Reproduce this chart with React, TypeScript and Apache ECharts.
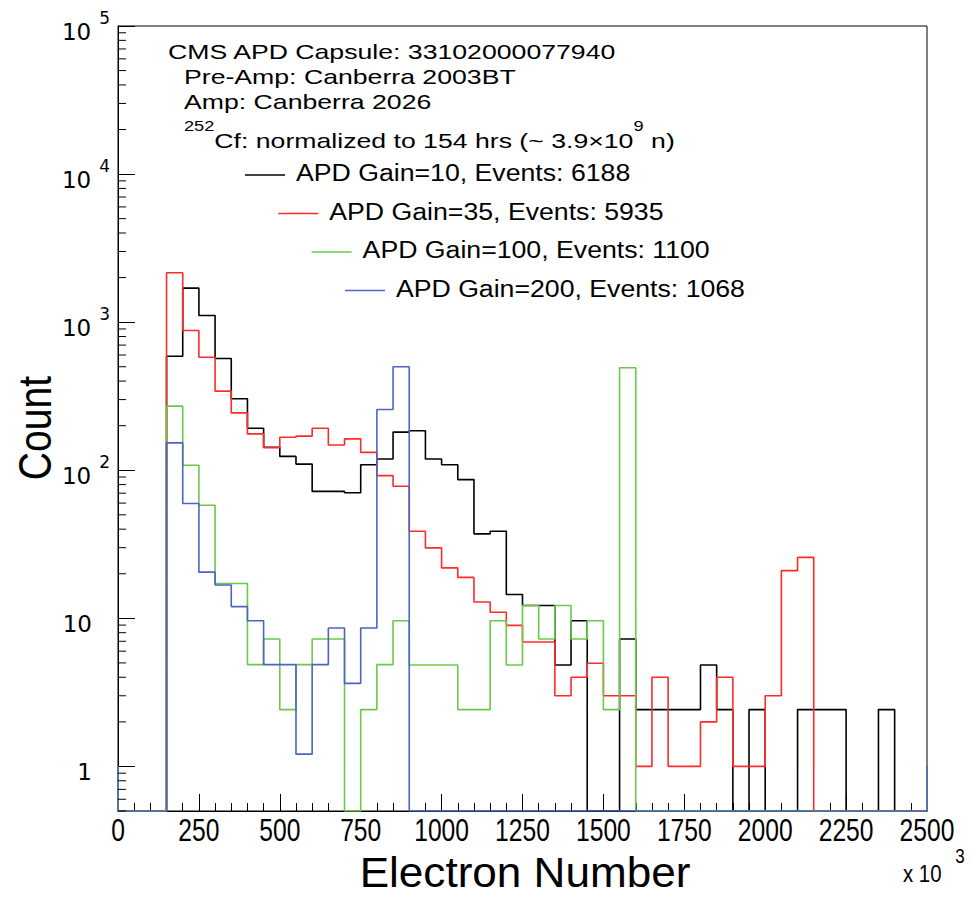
import React, { useEffect, useRef } from "react";
import * as echarts from "echarts";

// ---- data ----
const BIN_WIDTH = 50;
const FIRST_BIN = 150;
const X_MIN = 0;
const X_MAX = 2500;
const X_INTERVAL = 250;
const Y_MIN = 0.5;
const Y_MAX = 100000;
const EDGE_VALUE = 1;

// bins 150-200, 200-250, ..., 2450-2500
const gain10 = [589, 1698, 1110, 569, 304, 192, 143, 124, 110, 72, 72, 70.5, 109, 119, 181, 185, 119, 109, 86.5, 37.2, 38.7, 14.5, 12.2, 12.2, 4.84, 9.64, 0, 0, 7.26, 2.42, 2.42, 2.42, 2.42, 4.84, 2.42, 0, 2.42, 0, 0, 2.42, 2.42, 2.42, 0, 0, 2.42, 0, 0];
const gain35 = [2158, 879, 580, 342, 244, 176, 142, 167, 170, 192, 148, 163, 132, 92, 78, 38.7, 29.9, 21.9, 18.9, 12.9, 11.0, 8.97, 6.92, 6.92, 3.0, 4.0, 4.97, 3.0, 3.0, 1.0, 4.0, 1.0, 1.0, 2.0, 4.0, 1.0, 1.0, 3.0, 21.0, 25.8, 0, 0, 0, 0, 0, 0, 0];
const gain100 = [271, 108, 58, 17.2, 17.2, 4.87, 7.26, 2.42, 4.87, 7.26, 7.26, 0, 2.42, 4.87, 9.64, 4.84, 4.84, 4.84, 2.42, 2.42, 9.64, 4.84, 12.2, 7.26, 12.2, 7.26, 9.64, 2.42, 492, 0, 0, 0, 0, 0, 0, 0, 0, 0, 0, 0, 0, 0, 0, 0, 0, 0, 0];
const gain200 = [153, 59.6, 20.5, 16.8, 12.0, 9.64, 4.87, 4.87, 1.21, 4.87, 8.6, 3.64, 8.6, 257, 500, 0, 0, 0, 0, 0, 0, 0, 0, 0, 0, 0, 0, 0, 0, 0, 0, 0, 0, 0, 0, 0, 0, 0, 0, 0, 0, 0, 0, 0, 0, 0, 0];

const SERIES_NAMES = ["APD Gain=10", "APD Gain=35", "APD Gain=100", "APD Gain=200"];
const LEGEND_LABELS = [
  "APD Gain=10, Events: 6188",
  "APD Gain=35, Events: 5935",
  "APD Gain=100, Events: 1100",
  "APD Gain=200, Events: 1068",
];
const SERIES_COLORS = ["#000000", "#ff2a2a", "#6cc84a", "#4a66c0"];
const SERIES_VALUES = [gain10, gain35, gain100, gain200];

const HEADER_LINES = [
  "CMS APD Capsule: 33102000077940",
  "Pre-Amp: Canberra 2003BT",
  "Amp: Canberra 2026",
];
const SOURCE_LINE = "{sup|252}{n|Cf: normalized to 154 hrs (~ 3.9×10}{sup|9}{n| n)}";

const X_TICKS = [0, 250, 500, 750, 1000, 1250, 1500, 1750, 2000, 2250, 2500];
const MINOR_Y_TICKS: number[] = [];
[0.1, 1, 10, 100, 1000, 10000].forEach((d) => {
  for (let k = 2; k <= 9; k++) {
    const v = d * k;
    if (v >= Y_MIN && v < Y_MAX) MINOR_Y_TICKS.push(v);
  }
});

const FONT = "'Liberation Sans', Arial, Helvetica, sans-serif";

function stepPoints(values: number[]) {
  const pts: number[][] = [
    [X_MIN, EDGE_VALUE],
    [X_MIN, Y_MIN],
    [FIRST_BIN, Y_MIN],
  ];
  values.forEach((v, i) => {
    const l = FIRST_BIN + i * BIN_WIDTH;
    const r = l + BIN_WIDTH;
    const y = v > 0 ? v : Y_MIN;
    pts.push([l, y], [r, y]);
  });
  pts.push([X_MAX, Y_MIN], [X_MAX, EDGE_VALUE]);
  return pts;
}

export default function App() {
  const ref = useRef<HTMLDivElement>(null);
  useEffect(() => {
    if (!ref.current) return;
    const chart = echarts.init(ref.current, null, { renderer: "svg" });

    const lineSeries = SERIES_VALUES.map((vals, i) => ({
      type: "line",
      name: SERIES_NAMES[i],
      data: stepPoints(vals),
      showSymbol: false,
      symbol: "none",
      lineStyle: { color: SERIES_COLORS[i], width: 1.6 },
      itemStyle: { color: SERIES_COLORS[i] },
      silent: true,
      clip: true,
      z: 3 + i,
    }));

    const headerText = (text: string, x: number, y: number) => ({
      type: "text",
      x,
      y,
      scaleX: 1.3,
      style: { text, font: `20.5px ${FONT}`, fill: "#000", textAlign: "left", textVerticalAlign: "middle" },
    });

    const legendGraphics: any[] = [];
    LEGEND_LABELS.forEach((label, i) => {
      const lx = 245 + 33.3 * i;
      const cy = 173 + 38.5 * i;
      legendGraphics.push({
        type: "line",
        shape: { x1: lx, y1: cy + 2, x2: lx + 40, y2: cy + 2 },
        style: { stroke: SERIES_COLORS[i], lineWidth: 1.5 },
      });
      legendGraphics.push({
        type: "text",
        x: lx + 51,
        y: cy,
        scaleX: 1.16,
        style: {
          text: label,
          font: `23px ${FONT}`,
          fill: "#000",
          textAlign: "left",
          textVerticalAlign: "middle",
        },
      });
    });

    const option: any = {
      animation: false,
      backgroundColor: "#ffffff",
      grid: {
        left: 118,
        top: 26,
        width: 809,
        height: 785,
        show: true,
        borderColor: "#000",
        borderWidth: 1,
        backgroundColor: "transparent",
      },
      xAxis: {
        type: "value",
        min: X_MIN,
        max: X_MAX,
        interval: X_INTERVAL,
        axisLine: { show: true, lineStyle: { color: "#000", width: 1 } },
        axisTick: { show: true, inside: true, length: 17, lineStyle: { color: "#000" } },
        minorTick: { show: true, splitNumber: 5, length: 8, lineStyle: { color: "#000" } },
        splitLine: { show: false },
        axisLabel: { show: false },
      },
      yAxis: {
        type: "log",
        logBase: 10,
        min: Y_MIN,
        max: Y_MAX,
        axisLine: { show: true, lineStyle: { color: "#000", width: 1 } },
        axisTick: { show: true, inside: true, length: 17, lineStyle: { color: "#000" } },
        splitLine: { show: false },
        axisLabel: {
          margin: 8,
          color: "#000",
          formatter: (v: number) => {
            if (v < 0.9) return "";
            const e = Math.round(Math.log10(v));
            if (e === 0) return "{p|1}";
            if (e === 1) return "{p|10}";
            return "{b|10}{s|" + e + "}";
          },
          rich: {
            p: { fontSize: 23, fontFamily: "'DejaVu Sans'", lineHeight: 34, verticalAlign: "bottom", padding: [0, 18, 0, 0], color: "#000" },
            b: { fontSize: 23, fontFamily: "'DejaVu Sans'", lineHeight: 34, verticalAlign: "bottom", color: "#000" },
            s: { fontSize: 17, fontFamily: "'DejaVu Sans'", lineHeight: 34, verticalAlign: "top", padding: [0, 0, 0, 8], color: "#000" },
          },
        },
      },
      series: [
        ...lineSeries,
        {
          type: "custom",
          name: "minorTicks",
          silent: true,
          clip: false,
          data: MINOR_Y_TICKS.map((v) => [X_MIN, v]),
          renderItem: (_p: any, api: any) => {
            const pt = api.coord([X_MIN, api.value(1)]);
            return {
              type: "line",
              shape: { x1: pt[0], y1: pt[1], x2: pt[0] + 8, y2: pt[1] },
              style: { stroke: "#000", lineWidth: 1 },
            };
          },
          z: 10,
        },
        {
          type: "custom",
          name: "xLabels",
          silent: true,
          clip: false,
          data: X_TICKS.map((v) => [v, Y_MIN]),
          renderItem: (_p: any, api: any) => {
            const v = api.value(0);
            const pt = api.coord([v, Y_MIN]);
            return {
              type: "text",
              x: pt[0],
              y: pt[1] + 19,
              scaleX: 0.77,
              style: {
                text: String(v),
                font: `32px ${FONT}`,
                fill: "#000",
                textAlign: "center",
                textVerticalAlign: "middle",
              },
            };
          },
          z: 10,
        },
      ],
      graphic: [
        headerText(HEADER_LINES[0], 168, 52),
        headerText(HEADER_LINES[1], 184, 77),
        headerText(HEADER_LINES[2], 184, 102),
        {
          type: "text",
          x: 184,
          y: 135,
          scaleX: 1.3,
          style: {
            text: SOURCE_LINE,
            fill: "#000",
            textAlign: "left",
            textVerticalAlign: "middle",
            rich: {
              n: { fontSize: 20.5, fontFamily: FONT, lineHeight: 32, verticalAlign: "bottom", fill: "#000" },
              sup: { fontSize: 14, fontFamily: FONT, lineHeight: 32, verticalAlign: "top", fill: "#000" },
            },
          },
        },
        ...legendGraphics,
        {
          type: "text",
          x: 35,
          y: 428,
          rotation: Math.PI / 2,
          scaleX: 0.85,
          style: { text: "Count", font: `46px ${FONT}`, fill: "#000", textAlign: "center", textVerticalAlign: "middle" },
        },
        {
          type: "text",
          x: 525,
          y: 872,
          scaleX: 1.05,
          style: { text: "Electron Number", font: `42px ${FONT}`, fill: "#000", textAlign: "center", textVerticalAlign: "middle" },
        },
        {
          type: "text",
          x: 903,
          y: 866,
          scaleX: 0.85,
          style: {
            text: "{n|x 10}{s|3}",
            textAlign: "left",
            textVerticalAlign: "middle",
            rich: {
              n: { fontSize: 24, fontFamily: FONT, lineHeight: 40, verticalAlign: "bottom", fill: "#000" },
              s: { fontSize: 20, fontFamily: FONT, lineHeight: 40, verticalAlign: "top", padding: [0, 0, 0, 16], fill: "#000" },
            },
          },
        },
      ],
    };
    chart.setOption(option);
    return () => chart.dispose();
  }, []);

  return (
    <div
      ref={ref}
      style={{ position: "absolute", left: 0, top: 0, width: 974, height: 897, background: "#fff" }}
    />
  );
}
